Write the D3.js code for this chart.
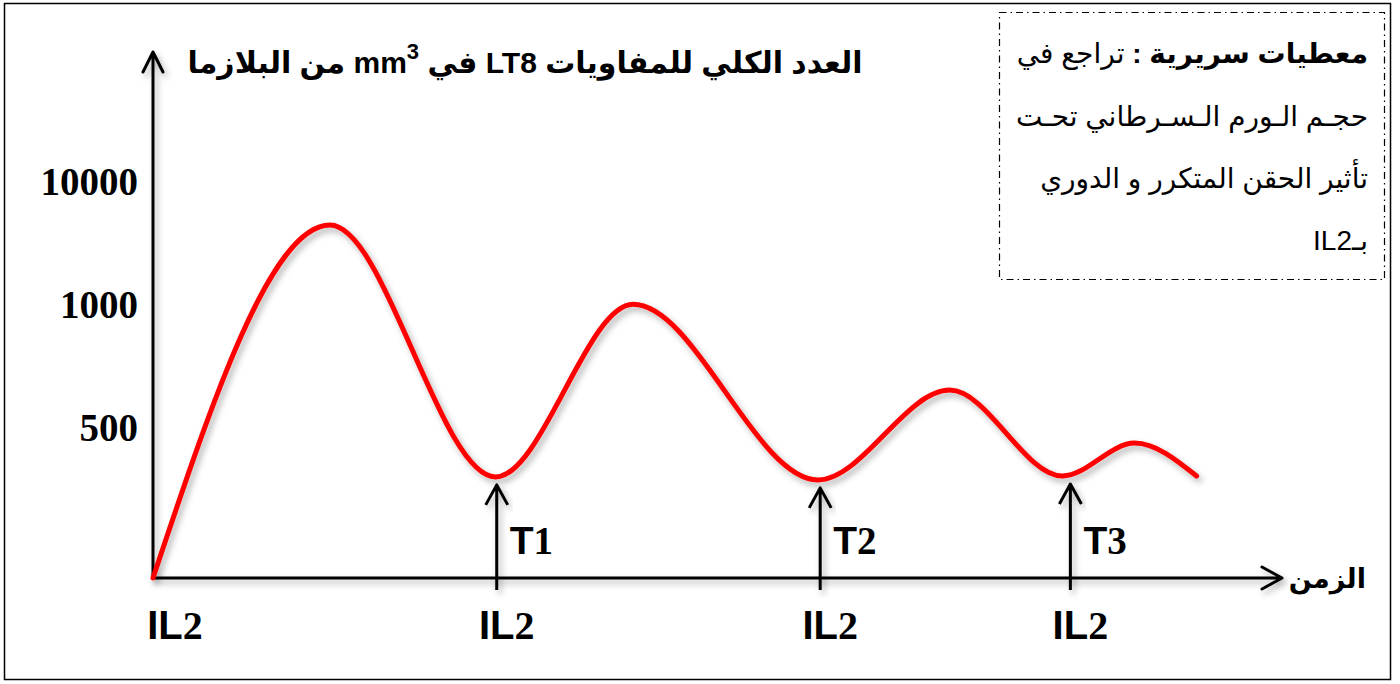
<!DOCTYPE html>
<html>
<head>
<meta charset="utf-8">
<script src="https://cdn.jsdelivr.net/npm/d3@7"></script>
<style>
  body { margin: 0; background: #fff; }
  svg { display: block; }
</style>
</head>
<body>
<div id="chart"></div>
<script>
// peaks and troughs (time in arbitrary units, count per mm3)
const times  = [0, 15.7, 30.4, 42.6, 59.0, 70.7, 80.7, 87.1, 92.6];
const counts = [0, 6850, 337, 1050, 327, 654, 340, 450, 340];
const injectionTimes = [0, 30.5, 59.2, 81.4];
const injectionLabels = ["IL2", "IL2", "IL2", "IL2"];
const treatLabels = ["T1", "T2", "T3"];
const yTicks = [500, 1000, 10000];
const yTitle = "العدد الكلي للمفاويات LT8 في mm";
const yTitleEnd = " من البلازما";
const xTitle = "الزمن";
const noteLines = ["حجـم الـورم الـسـرطاني تحـت", "تأثير الحقن المتكرر و الدوري", "بـIL2"];

const W = 1400, H = 684;
const arabic = "'Liberation Sans', Arial, 'DejaVu Sans', sans-serif";
const serif = "'Liberation Serif', 'Times New Roman', serif";

const svg = d3.select("#chart").append("svg")
  .attr("width", W).attr("height", H);

const defs = svg.append("defs");
const f = defs.append("filter").attr("id", "shadow")
  .attr("x", "-10%").attr("y", "-10%").attr("width", "130%").attr("height", "130%");
f.append("feDropShadow").attr("dx", 3).attr("dy", 4).attr("stdDeviation", 3)
  .attr("flood-color", "#000").attr("flood-opacity", 0.3);

// outer frame
svg.append("rect").attr("x", 4.5).attr("y", 3.5).attr("width", 1386).attr("height", 676)
  .attr("fill", "none").attr("stroke", "#000").attr("stroke-width", 1.5);

const x = d3.scaleLinear().domain([0, 100]).range([153, 1280]);
// piecewise scale like the hand drawn axis
const y = d3.scaleLinear().domain([0, 500, 1000, 10000]).range([578, 428, 305, 182]);

// y tick labels
const yAxis = svg.append("g")
  .attr("transform", `translate(${x(0)},0)`)
  .call(d3.axisLeft(y).tickValues(yTicks).tickSize(0).tickPadding(15).tickFormat(d3.format("d")));
yAxis.select(".domain").remove();
yAxis.selectAll("text")
  .style("font-family", serif).style("font-weight", "bold").style("font-size", "39px").attr("fill", "#000");

// axes with arrows
const axes = svg.append("g").attr("filter", "url(#shadow)")
  .attr("stroke", "#000").attr("stroke-width", 3).attr("fill", "none")
  .attr("stroke-linecap", "round").attr("stroke-linejoin", "round");
const x0 = x(0), y0 = y(0);
axes.append("path").attr("d", `M${x0},${y0}V52M${x0 - 10},72L${x0},52L${x0 + 10},72`);
axes.append("path").attr("d", `M${x0},${y0}H1282M1262,${y0 - 11}L1282,${y0}L1262,${y0 + 11}`);

// curve (flat at every peak / trough)
const pts = times.map((t, i) => [x(t), y(counts[i])]);
const line = d3.line().curve(d3.curveMonotoneX);
svg.append("path").attr("d", line(pts))
  .attr("fill", "none").attr("stroke", "#ff0000").attr("stroke-width", 5)
  .attr("stroke-linecap", "round").attr("filter", "url(#shadow)");

// injection arrows T1..T3
injectionTimes.slice(1).forEach((t, i) => {
  const near = counts.filter((c, j) => Math.abs(times[j] - t) < 3);
  const tipY = y(d3.min(near)) + 8;
  const xx = x(t);
  svg.append("path")
    .attr("d", `M${xx},590V${tipY}M${xx - 11},${tipY + 20}L${xx},${tipY}L${xx + 11},${tipY + 20}`)
    .attr("stroke", "#000").attr("stroke-width", 3).attr("fill", "none")
    .attr("stroke-linejoin", "round").attr("filter", "url(#shadow)");
  const tt = svg.append("text").attr("x", xx + 13).attr("y", 554)
    .attr("font-size", "39px").attr("font-weight", "bold");
  tt.append("tspan").attr("font-family", arabic).text(treatLabels[i][0]);
  tt.append("tspan").attr("font-family", serif).text(treatLabels[i].slice(1));
});

// IL2 labels under the axis
injectionTimes.forEach((t, i) => {
  const tt = svg.append("text").attr("x", x(t) + (i === 0 ? 22 : 10)).attr("y", 639)
    .attr("text-anchor", "middle").attr("font-size", "40px").attr("font-weight", "bold");
  tt.append("tspan").attr("font-family", arabic).text(injectionLabels[i].slice(0, 2));
  tt.append("tspan").attr("font-family", serif).text(injectionLabels[i].slice(2));
});

// y title
const yt = svg.append("text").attr("x", 525).attr("y", 73)
  .attr("direction", "rtl").attr("text-anchor", "middle")
  .attr("font-family", arabic).attr("font-weight", "bold").attr("font-size", "30px");
yt.append("tspan").text(yTitle);
yt.append("tspan").attr("dy", -14).attr("font-size", "22px").text("3");
yt.append("tspan").attr("dy", 14).text(yTitleEnd);

// x title
svg.append("text").attr("x", 1366).attr("y", 588).attr("direction", "rtl").attr("text-anchor", "start")
  .attr("font-family", arabic).attr("font-weight", "bold").attr("font-size", "27px").text(xTitle);

// note box
svg.append("rect").attr("x", 999.5).attr("y", 12.5).attr("width", 385).attr("height", 267)
  .attr("fill", "#fff").attr("stroke", "#000").attr("stroke-width", 1.2)
  .attr("stroke-dasharray", "7,4,1.5,4");
const n1 = svg.append("text").attr("x", 1368).attr("y", 63).attr("direction", "rtl").attr("text-anchor", "start")
  .attr("font-family", arabic).attr("font-size", "28px");
n1.append("tspan").attr("font-weight", "bold").text("معطيات سريرية :");
n1.append("tspan").text(" تراجع في");
noteLines.forEach((s, i) => {
  svg.append("text").attr("x", 1368).attr("y", 126 + i * 62).attr("direction", "rtl").attr("text-anchor", "start")
    .attr("font-family", arabic).attr("font-size", "28px").text(s);
});
</script>
</body>
</html>
